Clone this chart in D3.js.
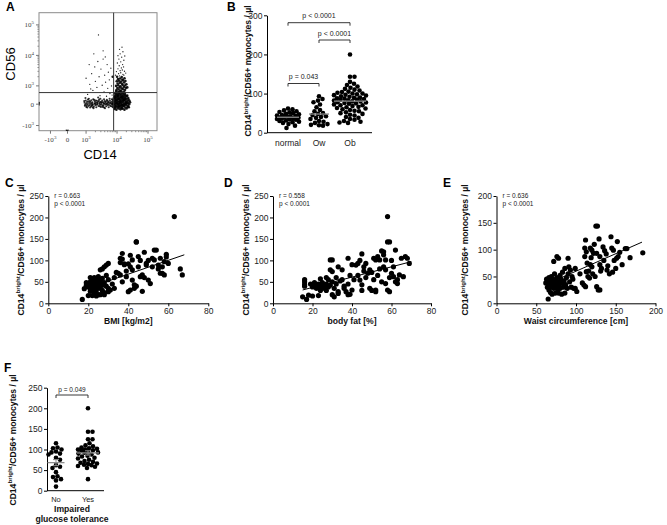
<!DOCTYPE html>
<html><head><meta charset="utf-8">
<script src="https://cdn.jsdelivr.net/npm/d3@7"></script>
<style>body{margin:0;background:#fff}svg{display:block}</style>
</head><body>
<svg id="c" width="667" height="525"></svg>
<script>
// ---------------- DATA ----------------
// Panel A: flow cytometry events, in display (decade) units: 10^3=3, 10^4=4, 10^5=5
const flowTickValues = [1.85, 2.4, 3, 4, 5];
const flowTickBase = ["-10", "0", "10", "10", "10"];
const flowTickExp = ["3", "", "3", "4", "5"];
const flowYTickValues = [1.7, 2.4, 3, 4, 5];
const gateCD14 = 3.89, gateCD56 = 2.78;
const flowEvents = [
// CD14+ CD56- band
[2.95,2.45],[2.97,2.38],[2.99,2.52],[3.01,2.31],[3.03,2.47],[3.05,2.40],[3.06,2.55],[3.08,2.34],[3.10,2.44],[3.12,2.50],
[3.13,2.29],[3.15,2.41],[3.17,2.53],[3.18,2.36],[3.20,2.46],[3.22,2.39],[3.23,2.56],[3.25,2.32],[3.27,2.43],[3.28,2.49],
[3.30,2.37],[3.32,2.45],[3.33,2.30],[3.35,2.51],[3.37,2.40],[3.38,2.47],[3.40,2.34],[3.42,2.55],[3.43,2.42],[3.45,2.38],
[3.47,2.48],[3.48,2.31],[3.50,2.44],[3.52,2.52],[3.53,2.36],[3.55,2.46],[3.57,2.41],[3.58,2.29],[3.60,2.50],[3.62,2.39],
[3.63,2.45],[3.65,2.33],[3.67,2.54],[3.68,2.42],[3.70,2.37],[3.72,2.48],[3.73,2.30],[3.75,2.44],[3.77,2.51],[3.78,2.35],
[3.80,2.46],[3.82,2.40],[3.83,2.56],[3.85,2.32],[3.86,2.43],[2.96,2.35],[3.00,2.42],[3.04,2.29],[3.07,2.49],[3.11,2.37],
[3.14,2.47],[3.19,2.43],[3.21,2.30],[3.26,2.54],[3.29,2.41],[3.34,2.38],[3.36,2.44],[3.41,2.50],[3.44,2.33],[3.49,2.39],
[3.51,2.47],[3.56,2.35],[3.59,2.43],[3.64,2.49],[3.66,2.40],[3.71,2.45],[3.74,2.38],[3.79,2.43],[3.81,2.33],[3.84,2.49],
[3.09,2.58],[3.24,2.27],[3.46,2.58],[3.61,2.27],[3.76,2.58],[2.98,2.60],[3.39,2.62],
[2.94,2.50],[3.02,2.36],[3.16,2.33],[3.31,2.52],[3.54,2.31],[3.69,2.51],[3.87,2.38],[3.58,2.56],[3.20,2.37],[3.45,2.45],
// CD14bright main population
[3.92,2.24],[3.98,2.22],[4.05,2.26],[4.11,2.23],[4.18,2.25],[4.24,2.22],[4.31,2.26],
[3.89,2.30],[3.95,2.32],[4.01,2.29],[4.07,2.31],[4.14,2.30],[4.20,2.33],[4.27,2.29],[4.34,2.31],
[3.91,2.36],[3.97,2.35],[4.03,2.38],[4.09,2.35],[4.16,2.37],[4.22,2.34],[4.29,2.37],[4.36,2.35],
[3.88,2.41],[3.94,2.40],[4.00,2.42],[4.06,2.40],[4.12,2.43],[4.18,2.39],[4.25,2.41],[4.32,2.42],[4.39,2.40],
[3.90,2.46],[3.96,2.45],[4.02,2.47],[4.08,2.44],[4.15,2.46],[4.21,2.45],[4.28,2.47],[4.35,2.45],
[3.89,2.51],[3.95,2.50],[4.01,2.52],[4.07,2.49],[4.13,2.51],[4.19,2.50],[4.26,2.52],[4.33,2.50],[4.40,2.51],
[3.92,2.56],[3.98,2.55],[4.04,2.57],[4.10,2.54],[4.17,2.56],[4.23,2.55],[4.30,2.57],[4.37,2.55],
[3.90,2.61],[3.96,2.60],[4.02,2.62],[4.08,2.59],[4.14,2.61],[4.20,2.60],[4.27,2.62],
[3.93,2.66],[3.99,2.65],[4.05,2.67],[4.11,2.64],[4.18,2.66],[4.24,2.65],[4.31,2.67],
[3.95,2.71],[4.01,2.70],[4.07,2.72],[4.13,2.69],[4.20,2.71],[4.26,2.70],
[3.94,2.76],[4.00,2.75],[4.06,2.77],[4.12,2.74],[4.19,2.76],[4.25,2.75],
[3.97,2.81],[4.04,2.80],[4.10,2.82],[4.16,2.79],[4.23,2.81],
[3.93,2.28],[4.04,2.33],[4.15,2.27],[4.23,2.38],[4.10,2.48],[3.99,2.43],[4.21,2.53],[4.05,2.58],[4.16,2.63],[3.97,2.52],
[4.29,2.44],[3.92,2.63],[4.12,2.36],[4.26,2.58],[4.02,2.68],[4.42,2.46],[4.38,2.30],[4.36,2.60],[3.87,2.55],[4.33,2.68],
// CD14bright CD56+ streak
[3.98,2.86],[4.05,2.88],[4.12,2.85],[4.19,2.89],[4.26,2.87],[4.01,2.93],[4.08,2.95],[4.15,2.92],[4.22,2.96],[4.29,2.94],
[3.97,3.00],[4.04,3.02],[4.11,2.99],[4.18,3.03],[4.25,3.01],[4.02,3.08],[4.09,3.10],[4.16,3.07],[4.23,3.11],[3.99,3.15],
[4.06,3.17],[4.13,3.14],[4.20,3.18],[4.27,3.16],[4.03,3.22],[4.10,3.24],[4.17,3.21],[4.24,3.25],
[4.00,3.30],[4.08,3.33],[4.15,3.29],[4.22,3.35],[4.05,3.40],[4.12,3.43],[4.19,3.38],[3.98,3.47],[4.10,3.50],[4.17,3.52],
[4.24,3.48],[4.03,3.56],[4.14,3.59],[4.21,3.62],[4.07,3.66],[4.18,3.70],[4.01,3.75],[4.12,3.79],[4.22,3.84],[4.06,3.88],
[4.15,3.94],[4.25,3.98],[4.03,3.99],[4.10,4.05],[4.19,4.12],[4.08,4.20],[4.16,4.27],[4.30,3.05],[4.33,2.95],[3.95,3.35],[4.28,3.42],
// sparse events
[3.05,2.72],[3.12,3.05],[3.18,3.40],[3.22,2.85],[3.28,3.62],[3.30,3.15],[3.35,2.95],[3.38,3.80],[3.42,3.30],[3.45,2.68],
[3.48,3.55],[3.52,3.02],[3.55,3.88],[3.58,2.80],[3.60,3.35],[3.63,3.12],[3.66,2.66],[3.68,3.70],[3.70,2.92],[3.72,3.45],
[3.75,3.20],[3.77,2.75],[3.80,3.58],[3.82,3.00],[3.84,2.70],[3.86,3.30],[3.10,3.70],[3.25,4.05],[3.55,4.15],[3.62,3.95],
[3.00,3.25],[3.15,2.90],[3.40,4.67],
// events piled on the axes
[2.38,1.54],[2.40,1.54],[2.36,1.55],[2.42,1.55],[1.49,2.42],[1.49,2.46],[1.49,2.38]
];

// Panel B
const groupsB = ["normal", "Ow", "Ob"];
const normalB = [62,60,57,55,53,52,50,48,47,45,44,43,42,41,40,39,38,37,36,35,34,33,31,30,28,27,25,22,18,12];
const owB = [93,86,82,78,72,65,58,55,50,48,45,42,40,38,35,30,28,25,22,20,19,18];
const obB = [200,143,143,130,125,122,118,115,112,110,108,105,104,102,100,100,98,97,96,95,93,92,90,89,88,87,86,85,84,83,
  82,80,80,78,77,76,75,74,72,70,70,68,66,65,63,62,60,58,56,55,52,50,48,46,44,40,38,35,33,30,28,26,25];
const compB = [["normal","Ow","p = 0.043"],["Ow","Ob","p < 0.0001"],["normal","Ob","p < 0.0001"]];
const yTicksB = [0,100,200,300];

// Panel C: BMI vs monocytes
const bmiC = [19,20,20,21,21,21,22,22,22,22,23,23,23,23,24,24,24,24,25,25,25,25,26,26,26,27,27,27,28,28,29,29,30,30,20,22,24,26,28,30,31,17,18,19,26,27,29,30,28,24,21,23,
  33,35,36,36,37,37,37,38,39,40,41,41,41,42,42,42,43,43,44,44,45,45,46,47,47,48,49,49,50,51,52,52,53,53,55,55,56,57,57,58,58,59,59,60,63,66,67,54,48,44,39,34,38,50,56,46,40,36,32,33];
const monoC = [42,38,45,50,35,28,40,47,55,33,38,43,60,25,35,50,45,30,40,55,62,20,45,35,52,30,58,42,48,25,40,65,55,35,18,18,17,20,20,27,31,9,34,48,78,80,89,93,85,57,60,52,
  35,70,66,105,103,116,50,92,62,27,31,112,85,78,101,54,43,35,143,143,109,85,62,28,66,119,93,89,54,46,105,85,124,101,80,89,105,85,70,97,66,114,108,93,202,80,66,124,60,40,75,72,90,100,70,100,92,95,45,60,48];
const lineC = [[17,31],[68,113]];

// Panel D: body fat vs monocytes
const fatD = [15,16,16,16,16,17,18,19,20,20,21,21,22,22,23,23,24,24,25,25,26,26,27,27,28,28,29,29,29,30,30,30,30,31,31,32,32,33,33,33,34,35,35,36,37,38,38,38,39,39,
  40,40,41,42,43,43,44,44,45,45,46,46,47,47,48,49,49,50,50,51,51,52,52,52,53,53,54,54,55,55,56,56,56,57,57,57,58,58,58,59,59,59,60,60,61,61,62,62,63,63,64,65,66,67,68,69,45,36,27,24];
const monoD = [15,50,44,55,40,9,19,45,17,38,42,48,35,40,45,18,38,30,43,48,35,40,30,45,55,38,101,78,42,101,74,50,20,35,15,45,60,85,23,27,52,78,55,40,27,105,20,45,21,65,
  31,90,55,89,93,65,54,100,43,115,75,85,93,60,70,78,35,72,30,105,55,101,31,27,109,65,101,80,122,50,120,85,113,78,101,46,143,31,202,143,27,60,70,100,62,85,124,50,46,55,66,105,62,109,105,93,30,35,60,57];
const lineD = [[15,31],[70,97]];

// Panel E: waist circumference vs monocytes
const waistE = [62,63,64,65,65,66,66,67,68,68,69,70,70,71,71,72,72,73,73,74,74,75,76,76,77,78,78,78,79,80,80,81,82,82,83,84,85,86,86,87,88,89,90,90,91,92,93,94,95,96,97,99,99,101,105,108,110,
  111,111,112,112,113,113,114,115,116,117,118,118,119,120,120,121,122,123,124,125,126,126,127,128,129,130,130,130,131,132,134,135,136,138,139,140,142,144,145,146,147,148,150,151,152,153,155,158,162,164,168,184];
const monoE = [38,45,30,40,8,48,25,35,42,20,50,17,30,38,45,78,28,55,36,19,42,32,87,48,25,84,19,40,35,52,28,45,17,38,58,30,42,19,65,35,48,28,84,55,68,40,62,30,50,45,28,65,28,22,55,38,34,
  103,87,31,118,96,59,75,50,60,47,103,72,85,99,68,55,93,110,50,144,93,31,144,25,120,87,25,72,60,65,105,80,98,92,62,70,55,124,103,58,99,80,65,84,115,87,95,72,102,102,85,94];
const lineE = [[62,35],[183,114]];

// Panel F: impaired glucose tolerance
const groupsF = ["No", "Yes"];
const noF = [115,105,103,100,95,93,90,88,80,75,62,58,55,45,35,33,28,25,10];
const yesF = [200,143,143,125,125,115,110,108,105,103,102,100,100,98,97,95,93,92,90,88,85,83,80,78,75,72,70,68,66,65,63,62,60,58,55,28];

// ---------------- DRAWING ----------------
const svg = d3.select("#c");
const FF = "'Liberation Sans', Arial, Helvetica, sans-serif";
const SERIF = "'Liberation Serif', 'Times New Roman', serif";

function panelLabel(t, x, y) {
  svg.append("text").attr("x", x).attr("y", y).text(t)
    .attr("font-family", FF).attr("font-weight", "bold").attr("font-size", 12);
}
function yTitle(x, y, size) {
  const t = svg.append("text").attr("transform", `translate(${x},${y}) rotate(-90)`)
    .attr("text-anchor", "middle").attr("font-family", FF).attr("font-weight", "bold")
    .attr("font-size", size).attr("fill", "#111");
  t.append("tspan").text("CD14");
  t.append("tspan").text("bright").attr("font-size", size * 0.72).attr("dy", -size * 0.38);
  t.append("tspan").text("/CD56+ monocytes / µl").attr("dy", size * 0.38);
}
function styleAxis(g, fs) {
  g.select(".domain").attr("stroke", "#000").attr("stroke-width", 1);
  g.selectAll(".tick line").attr("stroke", "#000");
  g.selectAll(".tick text").attr("font-family", FF).attr("font-size", fs).attr("fill", "#222");
}
// column-scatter layout: points may overlap partly, spread limited to maxOff
function swarm(values, yScale, cx, minDist, maxOff) {
  const pts = values.map(v => ({ v, y: yScale(v) })).sort((a, b) => a.y - b.y);
  const placed = [];
  pts.forEach(p => {
    let best = null, bestScore = -1;
    const cands = [0];
    for (let k = 1; k * 0.5 <= maxOff; k++) cands.push(k * 0.5, -k * 0.5);
    for (const off of cands) {
      let md = Infinity;
      placed.forEach(q => { const dd = Math.hypot(q.dx - off, q.y - p.y); if (dd < md) md = dd; });
      if (md >= minDist) { best = off; break; }
      if (md > bestScore) { bestScore = md; best = off; }
    }
    p.dx = best; placed.push(p);
  });
  return pts.map(p => ({ x: cx + p.dx, y: p.y, v: p.v }));
}

// ---- Panel A ----
panelLabel("A", 6, 11);
const xA = d3.scaleLinear().domain([1.48, 5.29]).range([39, 157]);
const yA = d3.scaleLinear().domain([1.53, 5.40]).range([130.7, 12.7]);
const gA = svg.append("g");
gA.append("rect").attr("x", xA(1.48)).attr("y", yA(5.40)).attr("width", xA(5.29) - xA(1.48))
  .attr("height", yA(1.53) - yA(5.40)).attr("fill", "none").attr("stroke", "#8a8a8a").attr("stroke-width", 1);
const inCore = d => d[0] >= 3.86 && d[1] <= 3.3;
const inBand = d => d[0] < 3.88 && d[1] <= 2.63 && d[0] > 2.9;
gA.selectAll("circle").data(flowEvents).join("circle")
  .attr("cx", d => xA(d[0])).attr("cy", d => yA(d[1]))
  .attr("r", d => inCore(d) ? 1.3 : inBand(d) ? 1.05 : 0.65)
  .attr("fill", "#000").attr("fill-opacity", d => inBand(d) ? 0.8 : 0.9);
gA.append("line").attr("x1", xA(gateCD14)).attr("x2", xA(gateCD14)).attr("y1", yA(5.40)).attr("y2", yA(1.53))
  .attr("stroke", "#333").attr("stroke-width", 1);
gA.append("line").attr("x1", xA(1.48)).attr("x2", xA(5.29)).attr("y1", yA(gateCD56)).attr("y2", yA(gateCD56))
  .attr("stroke", "#333").attr("stroke-width", 1);
// ticks (major + minor)
const minorA = [];
[3, 4].forEach(dec => d3.range(2, 10).forEach(k => minorA.push(dec + Math.log10(k))));
gA.selectAll(".mx").data(minorA).join("line").attr("x1", d => xA(d)).attr("x2", d => xA(d))
  .attr("y1", yA(1.53)).attr("y2", yA(1.53) + 1.5).attr("stroke", "#888");
gA.selectAll(".my").data(minorA).join("line").attr("y1", d => yA(d)).attr("y2", d => yA(d))
  .attr("x1", xA(1.48)).attr("x2", xA(1.48) - 1.5).attr("stroke", "#888");
gA.selectAll(".Mx").data(flowTickValues).join("line").attr("x1", d => xA(d)).attr("x2", d => xA(d))
  .attr("y1", yA(1.53)).attr("y2", yA(1.53) + 3).attr("stroke", "#777");
gA.selectAll(".My").data(flowYTickValues).join("line").attr("y1", d => yA(d)).attr("y2", d => yA(d))
  .attr("x1", xA(1.48)).attr("x2", xA(1.48) - 3).attr("stroke", "#777");
flowTickValues.forEach((v, i) => {
  const t = gA.append("text").attr("x", xA(v)).attr("y", 142).attr("text-anchor", "middle")
    .attr("font-family", SERIF).attr("font-size", 7).attr("fill", "#444");
  t.append("tspan").text(flowTickBase[i]);
  if (flowTickExp[i]) t.append("tspan").text(flowTickExp[i]).attr("font-size", 5).attr("dy", -3);
});
flowYTickValues.forEach((v, i) => {
  const t = gA.append("text").attr("x", 34).attr("y", yA(v) + 2.5).attr("text-anchor", "end")
    .attr("font-family", SERIF).attr("font-size", 7).attr("fill", "#444");
  t.append("tspan").text(flowTickBase[i]);
  if (flowTickExp[i]) t.append("tspan").text(flowTickExp[i]).attr("font-size", 5).attr("dy", -3);
});
svg.append("text").attr("x", 100).attr("y", 159).attr("text-anchor", "middle").text("CD14")
  .attr("font-family", FF).attr("font-size", 13);
svg.append("text").attr("transform", "translate(15,64) rotate(-90)").attr("text-anchor", "middle").text("CD56")
  .attr("font-family", FF).attr("font-size", 13);

// ---- Panel B ----
panelLabel("B", 227, 11);
const xB = d3.scalePoint().domain(groupsB).range([288, 350]);
const yB = d3.scaleLinear().domain([0, 300]).range([132.7, 15.3]);
const gB = svg.append("g");
const axBy = gB.append("g").attr("transform", "translate(267,0)")
  .call(d3.axisLeft(yB).tickValues(yTicksB).tickSize(3).tickSizeOuter(0).tickPadding(1.5));
styleAxis(axBy, 8.5);
gB.append("line").attr("x1", 267).attr("x2", 372).attr("y1", yB(0)).attr("y2", yB(0)).attr("stroke", "#000");
groupsB.forEach(g => gB.append("text").attr("x", xB(g)).attr("y", 145.5).attr("text-anchor", "middle").text(g)
  .attr("font-family", FF).attr("font-size", 8.5).attr("fill", "#222"));
const spreadB = [11, 10, 16];
[normalB, owB, obB].forEach((vals, i) => {
  const cx = xB(groupsB[i]);
  const pts = swarm(vals, yB, cx, 4.3, spreadB[i]);
  gB.append("g").selectAll("circle").data(pts).join("circle")
    .attr("cx", d => d.x).attr("cy", d => d.y).attr("r", 2.3).attr("fill", "#000");
  const m = d3.mean(vals), hw = spreadB[i];
  gB.append("line").attr("x1", cx - hw).attr("x2", cx + hw).attr("y1", yB(m)).attr("y2", yB(m))
    .attr("stroke", "#8c8c8c").attr("stroke-width", 1.3);
});
const bracketYB = [83.5, 40, 22.7];
compB.forEach((c, i) => {
  const x1 = xB(c[0]), x2 = xB(c[1]), y = bracketYB[i];
  gB.append("path").attr("d", `M${x1},${y + 3}V${y}H${x2}V${y + 3}`).attr("fill", "none")
    .attr("stroke", "#222").attr("stroke-width", 0.9);
  gB.append("text").attr("x", (x1 + x2) / 2).attr("y", y - 4.5).attr("text-anchor", "middle").text(c[2])
    .attr("font-family", FF).attr("font-size", 7).attr("fill", "#222");
});
yTitle(251, 71, 8.6);

// ---- Scatter panels C, D, E ----
function scatterPanel(o) {
  const g = svg.append("g");
  const ay = g.append("g").attr("transform", `translate(${o.x.range()[0]},0)`)
    .call(d3.axisLeft(o.y).tickValues(o.yt).tickSize(3).tickSizeOuter(0).tickPadding(1.5));
  styleAxis(ay, 8.5);
  const ax = g.append("g").attr("transform", `translate(0,${o.y.range()[0]})`)
    .call(d3.axisBottom(o.x).tickValues(o.xt).tickSize(3).tickSizeOuter(0).tickPadding(1.5));
  styleAxis(ax, 8.5);
  const pts = o.xs.map((v, i) => [v, o.ys[i]]);
  g.selectAll("circle").data(pts).join("circle")
    .attr("cx", d => o.x(d[0])).attr("cy", d => o.y(d[1])).attr("r", 2.6).attr("fill", "#000");
  g.append("line").attr("x1", o.x(o.line[0][0])).attr("y1", o.y(o.line[0][1]))
    .attr("x2", o.x(o.line[1][0])).attr("y2", o.y(o.line[1][1])).attr("stroke", "#000").attr("stroke-width", 1);
  const x0 = o.x.range()[0];
  g.append("text").attr("x", x0 + 6).attr("y", 197.5).text(o.r)
    .attr("font-family", FF).attr("font-size", 6.5).attr("fill", "#222");
  g.append("text").attr("x", x0 + 6).attr("y", 205.5).text("p < 0.0001")
    .attr("font-family", FF).attr("font-size", 6.5).attr("fill", "#222");
  g.append("text").attr("x", (o.x.range()[0] + o.x.range()[1]) / 2).attr("y", 324).attr("text-anchor", "middle")
    .text(o.title).attr("font-family", FF).attr("font-weight", "bold").attr("font-size", 8.6).attr("fill", "#111");
  yTitle(o.tx, 250, 8.6);
}
panelLabel("C", 5, 187);
scatterPanel({ x: d3.scaleLinear().domain([0, 80]).range([48.3, 208.3]), y: d3.scaleLinear().domain([0, 250]).range([303.3, 196]),
  xt: [0, 20, 40, 60, 80], yt: [0, 50, 100, 150, 200, 250], xs: bmiC, ys: monoC, line: lineC,
  r: "r = 0.663", title: "BMI [kg/m2]", tx: 23.5 });
panelLabel("D", 224, 187);
scatterPanel({ x: d3.scaleLinear().domain([0, 80]).range([273, 431]), y: d3.scaleLinear().domain([0, 250]).range([303.3, 196]),
  xt: [0, 20, 40, 60, 80], yt: [0, 50, 100, 150, 200, 250], xs: fatD, ys: monoD, line: lineD,
  r: "r = 0.558", title: "body fat [%]", tx: 248.5 });
panelLabel("E", 443, 187);
scatterPanel({ x: d3.scaleLinear().domain([0, 200]).range([496.5, 655.5]), y: d3.scaleLinear().domain([0, 200]).range([303.3, 196]),
  xt: [0, 50, 100, 150, 200], yt: [0, 50, 100, 150, 200], xs: waistE, ys: monoE, line: lineE,
  r: "r = 0.636", title: "Waist circumference [cm]", tx: 468 });

// ---- Panel F ----
panelLabel("F", 4, 372);
const xF = d3.scalePoint().domain(groupsF).range([56, 88]);
const yF = d3.scaleLinear().domain([0, 250]).range([490.7, 387.7]);
const gF = svg.append("g");
const axFy = gF.append("g").attr("transform", "translate(47,0)")
  .call(d3.axisLeft(yF).tickValues([0, 50, 100, 150, 200, 250]).tickSize(3).tickSizeOuter(0).tickPadding(1.5));
styleAxis(axFy, 8.5);
gF.append("line").attr("x1", 47).attr("x2", 104).attr("y1", yF(0)).attr("y2", yF(0)).attr("stroke", "#000");
groupsF.forEach(g => gF.append("text").attr("x", xF(g)).attr("y", 501.5).attr("text-anchor", "middle").text(g)
  .attr("font-family", FF).attr("font-size", 7.5).attr("fill", "#222"));
const spreadF = [7.5, 10];
[noF, yesF].forEach((vals, i) => {
  const cx = xF(groupsF[i]);
  const pts = swarm(vals, yF, cx, 4.3, spreadF[i]);
  gF.append("g").selectAll("circle").data(pts).join("circle")
    .attr("cx", d => d.x).attr("cy", d => d.y).attr("r", 2.3).attr("fill", "#000");
  const m = d3.mean(vals), sem = d3.deviation(vals) / Math.sqrt(vals.length), hw = spreadF[i] + 1;
  gF.append("line").attr("x1", cx - hw).attr("x2", cx + hw).attr("y1", yF(m)).attr("y2", yF(m))
    .attr("stroke", "#8c8c8c").attr("stroke-width", 1.3);
  gF.append("path").attr("d", `M${cx - 3},${yF(m + sem)}H${cx + 3}M${cx},${yF(m + sem)}V${yF(m - sem)}M${cx - 3},${yF(m - sem)}H${cx + 3}`)
    .attr("stroke", "#8c8c8c").attr("stroke-width", 1).attr("fill", "none");
});
gF.append("path").attr("d", `M${xF("No")},${398}V${395}H${xF("Yes")}V${398}`).attr("fill", "none")
  .attr("stroke", "#222").attr("stroke-width", 0.9);
gF.append("text").attr("x", (xF("No") + xF("Yes")) / 2).attr("y", 391.5).attr("text-anchor", "middle").text("p = 0.049")
  .attr("font-family", FF).attr("font-size", 6.5).attr("fill", "#222");
gF.append("text").attr("x", 72).attr("y", 512).attr("text-anchor", "middle").text("Impaired")
  .attr("font-family", FF).attr("font-weight", "bold").attr("font-size", 8.6).attr("fill", "#111");
gF.append("text").attr("x", 72).attr("y", 522).attr("text-anchor", "middle").text("glucose tolerance")
  .attr("font-family", FF).attr("font-weight", "bold").attr("font-size", 8.6).attr("fill", "#111");
yTitle(15.5, 440, 8.6);
</script>
</body></html>
